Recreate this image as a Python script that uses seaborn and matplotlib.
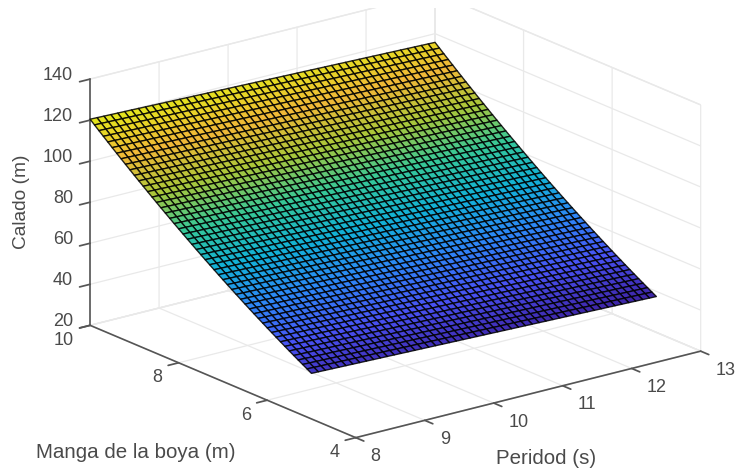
import matplotlib
matplotlib.use('Agg')
import matplotlib.pyplot as plt
from matplotlib.patches import Rectangle
from mpl_toolkits.mplot3d import proj3d
import numpy as np
import seaborn as sns

# Periodo (s), eje x de la malla
periodo = [8.0, 8.1, 8.2, 8.3, 8.4, 8.5, 8.6, 8.7, 8.8, 8.9,
           9.0, 9.1, 9.2, 9.3, 9.4, 9.5, 9.6, 9.7, 9.8, 9.9,
           10.0, 10.1, 10.2, 10.3, 10.4, 10.5, 10.6, 10.7, 10.8, 10.9,
           11.0, 11.1, 11.2, 11.3, 11.4, 11.5, 11.6, 11.7, 11.8, 11.9,
           12.0, 12.1, 12.2, 12.3, 12.4, 12.5, 12.6, 12.7, 12.8, 12.9, 13.0]

# Manga de la boya (m), eje y de la malla
manga = [5.0, 5.1, 5.2, 5.3, 5.4, 5.5, 5.6, 5.7, 5.8, 5.9,
         6.0, 6.1, 6.2, 6.3, 6.4, 6.5, 6.6, 6.7, 6.8, 6.9,
         7.0, 7.1, 7.2, 7.3, 7.4, 7.5, 7.6, 7.7, 7.8, 7.9,
         8.0, 8.1, 8.2, 8.3, 8.4, 8.5, 8.6, 8.7, 8.8, 8.9,
         9.0, 9.1, 9.2, 9.3, 9.4, 9.5, 9.6, 9.7, 9.8, 9.9, 10.0]

# Calado leido sobre el borde de periodo 8 s
calado_t8 = [42.20, 43.45, 44.71, 45.98, 47.26, 48.56, 49.87, 51.20, 52.54, 53.89,
             55.25, 56.63, 58.02, 59.42, 60.83, 62.26, 63.70, 65.16, 66.63, 68.11,
             69.60, 71.11, 72.63, 74.16, 75.70, 77.26, 78.83, 80.42, 82.02, 83.63,
             85.25, 86.89, 88.54, 90.20, 91.87, 93.56, 95.26, 96.98, 98.71, 100.45,
             102.20, 103.97, 105.75, 107.54, 109.34, 111.16, 113.00, 114.84, 116.70, 118.57, 120.45]

# Caida del calado al aumentar el periodo
caida_periodo = [0.00, 0.09, 0.19, 0.28, 0.38, 0.47, 0.56, 0.66, 0.75, 0.85,
                 0.94, 1.03, 1.13, 1.22, 1.32, 1.41, 1.50, 1.60, 1.69, 1.79,
                 1.88, 1.97, 2.07, 2.16, 2.26, 2.35, 2.44, 2.54, 2.63, 2.73,
                 2.82, 2.91, 3.01, 3.10, 3.20, 3.29, 3.38, 3.48, 3.57, 3.67,
                 3.76, 3.85, 3.95, 4.04, 4.14, 4.23, 4.32, 4.42, 4.51, 4.61, 4.70]

periodo_ticks = [8, 9, 10, 11, 12, 13]
manga_ticks = [4, 6, 8, 10]
calado_ticks = [20, 40, 60, 80, 100, 120, 140]

parula = ['#3e26a8', '#4852f4', '#2d87f7', '#12b1d6', '#37c897', '#abc739', '#f0b838', '#e4e41e']

TEXT_COLOR = '#4a4a4a'
AXIS_COLOR = '#555555'
GRID_COLOR = '#e9e9e9'

sns.set_theme(style='white')
plt.rcParams['font.family'] = ['Liberation Sans', 'DejaVu Sans']

X, Y = np.meshgrid(periodo, manga)
Z = np.array(calado_t8)[:, None] - np.array(caida_periodo)[None, :]

fig = plt.figure(figsize=(7.38, 4.72), dpi=100)
ax = fig.add_axes([20 / 738, 14.5 / 472, 1, 1], projection='3d', computed_zorder=False)
ax.set_proj_type('ortho')
ax.view_init(elev=19, azim=-127.6)
ax.set_box_aspect((438, 438, 262), zoom=1.375)

cmap = sns.blend_palette(parula, as_cmap=True)
surf = ax.plot_surface(X, Y, Z, rstride=1, cstride=1, cmap=cmap, shade=False,
                       edgecolor=(0, 0, 0, 0.85), linewidth=1.0, antialiased=True)
surf.set_clip_on(False)  # con el zoom la superficie se sale del cuadro de los ejes

ax.set_xlim(8, 13, view_margin=0)
ax.set_ylim(4, 10, view_margin=0)
ax.set_zlim(20, 140, view_margin=0)
ax.set_xticks(periodo_ticks)
ax.set_yticks(manga_ticks)
ax.set_zticks(calado_ticks)
ax.set_xticklabels([])
ax.set_yticklabels([])
ax.set_zticklabels([])
ax.tick_params(color=AXIS_COLOR)

for axis in (ax.xaxis, ax.yaxis, ax.zaxis):
    axis.set_pane_color((1, 1, 1, 1))
    axis.pane.set_edgecolor(GRID_COLOR)
    axis.line.set_color(AXIS_COLOR)
    axis.line.set_linewidth(1.2)
    axis._axinfo['grid']['color'] = GRID_COLOR
    axis._axinfo['grid']['linewidth'] = 0.9
    # en esta vista el signo del tick queda al reves: "inward" apunta hacia fuera
    axis._axinfo['tick']['inward_factor'] = 0.38
    axis._axinfo['tick']['outward_factor'] = 0.0
    axis._axinfo['tick']['color'] = AXIS_COLOR


def tick_label(text, x, y, z, dx, dy, ha):
    # etiqueta colocada en pixeles respecto al punto proyectado del tick
    px, py, _ = proj3d.proj_transform(x, y, z, ax.get_proj())
    ax.annotate(text, xy=(px, py), xycoords='data', xytext=(dx, dy), textcoords='offset pixels',
                ha=ha, va='center', fontsize=13, color=TEXT_COLOR, annotation_clip=False)


for v in calado_ticks:
    tick_label(str(v), 8, 10, v, -17, 4, 'right')
for v in manga_ticks:
    tick_label(str(v), 8, v, 20, -16, -15, 'right')
for v in periodo_ticks:
    tick_label(str(v), v, 4, 20, 15, -19, 'left')

fig.text(22 / 738, 1 - 202 / 472, 'Calado (m)', rotation=90, ha='center', va='center',
         fontsize=13.8, color=TEXT_COLOR)
fig.text(136 / 738, 1 - 453 / 472, 'Manga de la boya (m)', ha='center', va='center',
         fontsize=14.8, color=TEXT_COLOR)
fig.text(546 / 738, 1 - 459 / 472, 'Peridod (s)', ha='center', va='center',
         fontsize=14.8, color=TEXT_COLOR)

# la imagen original esta recortada por arriba
fig.add_artist(Rectangle((0, 1 - 8 / 472), 1, 8 / 472, transform=fig.transFigure,
                         facecolor='white', edgecolor='none', zorder=10))

fig.savefig('out.png', dpi=100)
